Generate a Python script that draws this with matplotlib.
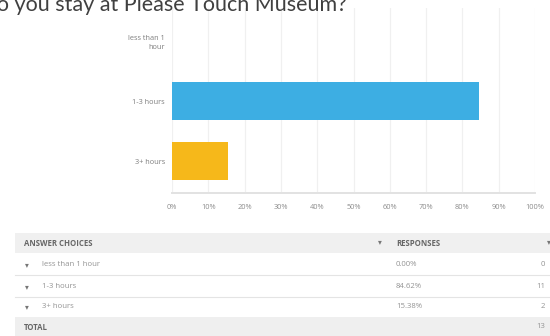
import matplotlib
matplotlib.use("Agg")
import matplotlib.pyplot as plt
from matplotlib.patches import Rectangle

# ---- data ----
categories = ["less than 1\nhour", "1-3 hours", "3+ hours"]
percentages = [0.0, 84.62, 15.38]
counts = [0, 11, 2]
total = 13
bar_colors = ["#3daee3", "#3daee3", "#f6b81a"]
table_labels = ["less than 1 hour", "1-3 hours", "3+ hours"]
x_ticks = [0, 10, 20, 30, 40, 50, 60, 70, 80, 90, 100]
title = "How long do you stay at Please Touch Museum?"

W, H = 550, 336
fig = plt.figure(figsize=(W / 100, H / 100), dpi=100)
fig.patch.set_facecolor("white")

def fx(px):
    return px / W

def fy(py):
    return 1 - py / H

# ---- title (cut off at top-left like the screenshot) ----
fig.text(fx(347), fy(11), title, ha="right", va="baseline",
         fontsize=15.5, family="Lato", weight="normal", color="#404040")

# ---- bar chart ----
ax = fig.add_axes([fx(172), fy(193), fx(535) - fx(172), fy(8) - fy(193)])
ypos = list(range(len(categories)))
ax.barh(ypos, percentages, height=0.63, color=bar_colors, zorder=3)
ax.set_xlim(0, 100)
ax.set_ylim(2.53, -0.55)
ax.set_xticks(x_ticks)
ax.set_xticklabels([f"{t}%" for t in x_ticks], fontsize=5.3, color="#8c8c8c",
                   family="Open Sans")
ax.set_yticks(ypos)
ax.set_yticklabels(categories, fontsize=5.3, color="#7e7e7e", family="Open Sans",
                   ha="right", linespacing=1.3)
ax.tick_params(axis="x", length=0, pad=8)
ax.tick_params(axis="y", length=0, pad=5)
ax.grid(axis="x", color="#f0f0f0", linewidth=0.9, zorder=0)
for s in ["top", "right", "left"]:
    ax.spines[s].set_visible(False)
ax.spines["bottom"].set_color("#e2e2e2")
ax.spines["bottom"].set_linewidth(1.4)

# ---- table ----
tax = fig.add_axes([0, 0, 1, 1])
tax.set_xlim(0, W)
tax.set_ylim(H, 0)
tax.axis("off")
tax.patch.set_alpha(0)

tax.add_patch(Rectangle((15, 233), W - 15, 20, color="#f0f0f0", lw=0))
tax.add_patch(Rectangle((15, 317), W - 15, 19, color="#efefef", lw=0))
for yl in [275, 297]:
    tax.plot([15, W], [yl, yl], color="#e4e4e4", lw=0.8)

hdr = dict(fontsize=5.6, color="#666666", family="Open Sans", weight="bold", va="center")
row = dict(fontsize=5.6, color="#949494", family="Open Sans", va="center")

tax.text(24, 243, "ANSWER CHOICES", **hdr)
tax.text(380, 242, "▾", fontsize=5.5, color="#777777", ha="center", va="center",
         family="DejaVu Sans")
tax.text(396, 243, "RESPONSES", **hdr)
tax.text(549, 242, "▾", fontsize=5.5, color="#777777", ha="center", va="center",
         family="DejaVu Sans")

row_y = [265, 287, 307]
for yv, lab, p, c in zip(row_y, table_labels, percentages, counts):
    tax.text(27, yv - 0.5, "▾", fontsize=5.5, color="#777777", ha="center",
             va="center", family="DejaVu Sans")
    tax.text(42, yv, lab, **row)
    tax.text(396, yv, f"{p:.2f}%", **row)
    tax.text(545, yv, str(c), ha="right", **row)

tax.text(24, 327, "TOTAL", **hdr)
tax.text(545, 327, str(total), ha="right", **row)

fig.savefig("out.png", dpi=100, facecolor="white")
